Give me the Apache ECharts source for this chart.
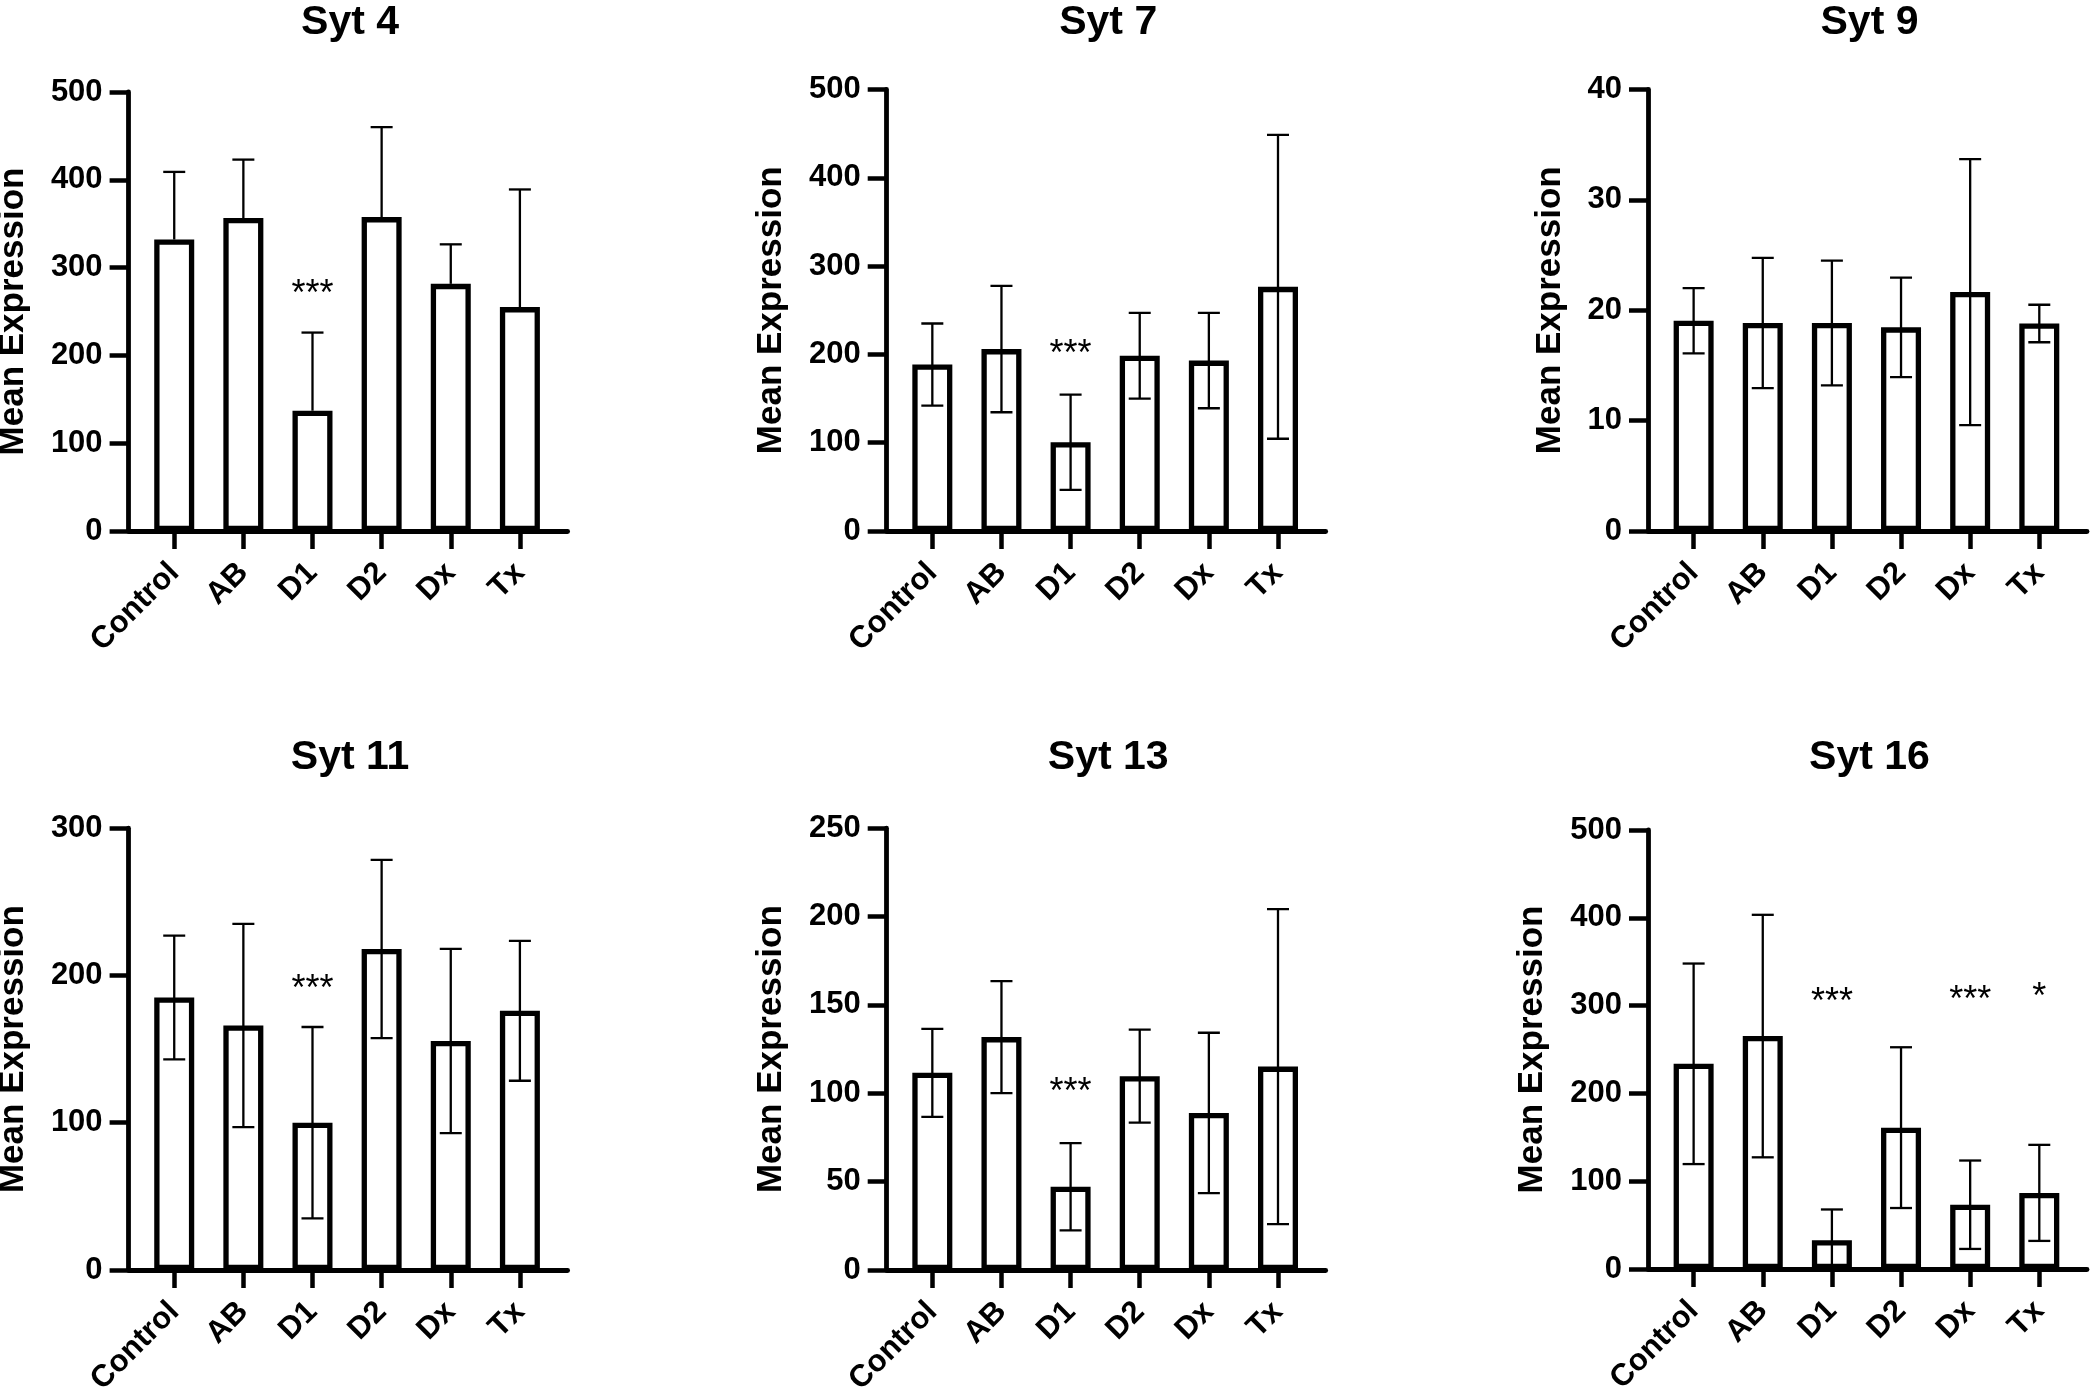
<!DOCTYPE html>
<html>
<head>
<meta charset="utf-8">
<script src="https://cdn.jsdelivr.net/npm/echarts@6/dist/echarts.min.js"></script>
<style>
html,body{margin:0;padding:0;background:#fff;}
#c{width:2096px;height:1400px;}
</style>
</head>
<body>
<div id="c"></div>
<script>
// ---------- data ----------
const categories = ['Control', 'AB', 'D1', 'D2', 'Dx', 'Tx'];
const titles = ['Syt 4', 'Syt 7', 'Syt 9', 'Syt 11', 'Syt 13', 'Syt 16'];

const syt4Mean  = [332, 356.5, 137, 357.5, 281.5, 255];
const syt4SD    = [77, 66.5, 89, 102.5, 45, 134];
const syt7Mean  = [188.5, 206, 100.5, 198.5, 193, 276.5];
const syt7SD    = [46.5, 71.5, 54, 48.5, 54, 172];
const syt9Mean  = [19.05, 18.85, 18.85, 18.45, 21.65, 18.8];
const syt9SD    = [2.95, 5.9, 5.65, 4.5, 12.05, 1.7];
const syt11Mean = [185, 166, 100, 218, 155.5, 176];
const syt11SD   = [42, 69, 65, 60.5, 62.5, 47.5];
const syt13Mean = [111.6, 131.8, 47.1, 109.7, 88.9, 115.1];
const syt13SD   = [24.9, 31.7, 24.65, 26.3, 45.35, 89.1];
const syt16Mean = [233.7, 265.3, 32.8, 161, 73.2, 86.7];
const syt16SD   = [114.2, 138.1, 35, 91.55, 50.35, 54.7];

// error bar direction per panel
const errDir = ['up', 'both', 'both', 'both', 'both', 'both'];

// significance marks: [category index, y value, text]
const syt4Stars  = [[2, 278, '***']];
const syt7Stars  = [[2, 208, '***']];
const syt9Stars  = [];
const syt11Stars = [[2, 195.5, '***']];
const syt13Stars = [[2, 104.7, '***']];
const syt16Stars = [[2, 312.3, '***'], [4, 314.8, '***'], [5, 317.3, '*']];

// y axis ticks
const yMax      = [500, 500, 40, 300, 250, 500];
const yInterval = [100, 100, 10, 100, 50, 100];
const yName = 'Mean Expression';

const means = [syt4Mean, syt7Mean, syt9Mean, syt11Mean, syt13Mean, syt16Mean];
const sds   = [syt4SD, syt7SD, syt9SD, syt11SD, syt13SD, syt16SD];
const stars = [syt4Stars, syt7Stars, syt9Stars, syt11Stars, syt13Stars, syt16Stars];

// ---------- layout (style only) ----------
const FONT = '"Liberation Sans", Arial, sans-serif';
const colLeft = [128.6, 886.7, 1648];
const gridW = 439;
const gridTop = [92, 89.5, 89.5, 828.2, 828.2, 830];
const gridBottom = [531, 531, 531, 1270, 1270, 1269];
const nameGaps = [98, 98, 80, 98, 98, 98];
const titleTop = [2, 2, 2, 737.5, 737.5, 737.5];
const idx = [0, 1, 2, 3, 4, 5];

const grids = [], xAxes = [], yAxes = [], series = [], titleArr = [];

idx.forEach(function (i) {
  const col = i % 3;
  grids.push({
    left: colLeft[col], top: gridTop[i], width: gridW, height: gridBottom[i] - gridTop[i],
    containLabel: false, outerBoundsMode: 'none'
  });
  titleArr.push({
    text: titles[i], left: colLeft[col] + gridW / 2 + 2, top: titleTop[i], textAlign: 'center', padding: 0,
    textStyle: { fontFamily: FONT, fontSize: 41, fontWeight: 'bold', color: '#000' }
  });
  xAxes.push({
    type: 'value', gridIndex: i, min: -0.66, max: 5.69,
    splitLine: { show: false },
    axisLine: { show: true, onZero: false, lineStyle: { color: '#000', width: 4.8 } },
    axisTick: { show: true, customValues: [0, 1, 2, 3, 4, 5], length: 18, lineStyle: { color: '#000', width: 4.5 } },
    axisLabel: {
      show: true, customValues: [0, 1, 2, 3, 4, 5], rotate: 45, margin: 37,
      fontFamily: FONT, fontSize: 31, fontWeight: 'bold', color: '#000',
      formatter: function (v) { return categories[Math.round(v)]; }
    }
  });
  yAxes.push({
    type: 'value', gridIndex: i, min: 0, max: yMax[i], interval: yInterval[i],
    splitLine: { show: false },
    axisLine: { show: true, onZero: false, lineStyle: { color: '#000', width: 4.8 } },
    axisTick: { show: true, length: 19, lineStyle: { color: '#000', width: 4.5 } },
    axisLabel: { margin: 26, fontFamily: FONT, fontSize: 31, fontWeight: 'bold', color: '#000' },
    name: yName, nameLocation: 'middle', nameGap: nameGaps[i], nameRotate: 90,
    nameTextStyle: { fontFamily: FONT, fontSize: 35, fontWeight: 'bold', color: '#000' }
  });
  series.push({
    type: 'bar', xAxisIndex: i, yAxisIndex: i, barWidth: 40, z: 2,
    data: means[i].map(function (m, k) { return [k, m]; }),
    itemStyle: { color: '#fff', borderColor: '#000', borderWidth: 5.3 },
    emphasis: { disabled: true }
  });
  const dir = errDir[i];
  series.push({
    type: 'custom', xAxisIndex: i, yAxisIndex: i, z: 3, clip: true,
    data: means[i].map(function (m, k) { return [k, m, sds[i][k]]; }),
    encode: { x: 0, y: 1 },
    renderItem: function (params, api) {
      const x = api.value(0), m = api.value(1), s = api.value(2);
      const hi = api.coord([x, m + s]);
      const lo = api.coord([x, dir === 'up' ? m : m - s]);
      const cw = 11;
      const st = { stroke: '#000', lineWidth: 2.3 };
      const children = [
        { type: 'line', shape: { x1: hi[0], y1: hi[1], x2: lo[0], y2: lo[1] }, style: st },
        { type: 'line', shape: { x1: hi[0] - cw, y1: hi[1], x2: hi[0] + cw, y2: hi[1] }, style: st }
      ];
      if (dir !== 'up') {
        children.push({ type: 'line', shape: { x1: lo[0] - cw, y1: lo[1], x2: lo[0] + cw, y2: lo[1] }, style: st });
      }
      return { type: 'group', children: children };
    }
  });
  if (stars[i].length) {
    series.push({
      type: 'custom', xAxisIndex: i, yAxisIndex: i, z: 4, clip: false,
      data: stars[i].map(function (s) { return [s[0], s[1]]; }),
      encode: { x: 0, y: 1 },
      renderItem: function (params, api) {
        const p = api.coord([api.value(0), api.value(1)]);
        const t = stars[i][params.dataIndex][2];
        return {
          type: 'text', x: p[0], y: p[1] + 8,
          style: { text: t, fill: '#000', font: 'normal 36px ' + FONT, textAlign: 'center', textVerticalAlign: 'middle' }
        };
      }
    });
  }
});

const chart = echarts.init(document.getElementById('c'), null, { renderer: 'canvas' });
chart.setOption({
  backgroundColor: '#fff',
  animation: false,
  title: titleArr,
  grid: grids,
  xAxis: xAxes,
  yAxis: yAxes,
  series: series
});
</script>
</body>
</html>
